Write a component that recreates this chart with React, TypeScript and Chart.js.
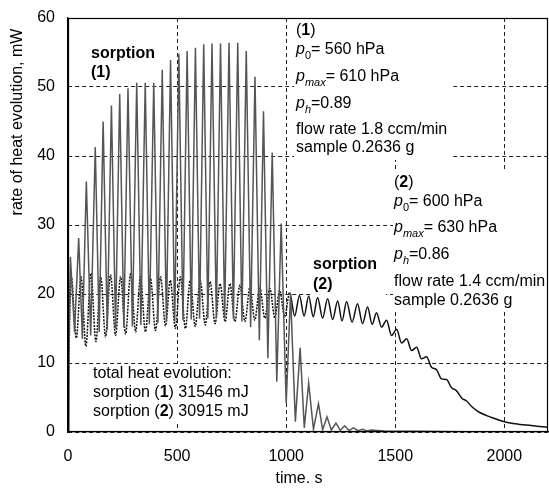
import React, { useEffect, useRef } from "react";
import { Chart, registerables } from "chart.js";
Chart.register(...registerables);

const xTicks = [0, 500, 1000, 1500, 2000];
const yTicks = [0, 10, 20, 30, 40, 50, 60];

// sorption (1): alternating troughs / peaks
const s1Time = [0, 4, 11, 30, 49, 66, 84, 104, 125, 143, 161, 180, 199, 218, 237, 256, 275, 295, 315, 334, 354, 373, 393, 412, 432, 451, 470, 489, 508, 527, 546, 565, 584, 603, 622, 641, 660, 680, 699, 718, 738, 758, 778, 797, 817, 837, 857, 877, 896, 916, 936, 957, 977, 1000, 1020, 1042, 1064, 1083, 1103, 1125, 1148, 1167, 1187, 1207, 1228, 1248, 1268, 1288, 1308, 1329, 1350, 1370, 1390, 1450, 1600, 1800, 2200];
const s1Value = [0, 13, 25.4, 14.5, 28.1, 13.5, 36.3, 14.0, 41.3, 14.5, 45.0, 14.8, 47.3, 15.0, 49.0, 15.2, 49.8, 15.3, 50.6, 15.5, 50.6, 15.6, 50.6, 15.8, 52.5, 16.0, 53.9, 16.0, 54.8, 16.2, 55.2, 16.3, 55.7, 16.4, 56.2, 16.5, 56.3, 16.5, 56.3, 16.5, 56.4, 16.4, 56.4, 16.0, 55.2, 15.2, 51.5, 13.3, 46.5, 10.7, 40.5, 7.3, 30.2, 4.2, 20.0, 1.5, 12.2, 0.6, 7.1, 0.4, 4.1, 0.3, 2.2, 0.3, 1.3, 0.25, 0.9, 0.2, 0.6, 0.2, 0.4, 0.15, 0.3, 0.15, 0.1, 0.05, 0.0];

// sorption (2)
const s2Time = [0, 5, 15, 38, 60, 82, 105, 128, 150, 172, 195, 218, 241, 264, 287, 310, 332, 355, 378, 401, 424, 447, 469, 492, 515, 538, 560, 583, 606, 629, 651, 674, 697, 720, 742, 765, 788, 811, 834, 856, 879, 902, 925, 948, 970, 993, 1016, 1039, 1061, 1082, 1103, 1124, 1144, 1167, 1190, 1213, 1236, 1256, 1277, 1302, 1327, 1350, 1373, 1394, 1414, 1437, 1460, 1483, 1506, 1529, 1552, 1575, 1598, 1620, 1643, 1666, 1690, 1712, 1735, 1758, 1780, 1805, 1827, 1850, 1883, 1942, 2000, 2050, 2100, 2150, 2200];
const s2Value = [0, 12, 22.5, 13.6, 22.5, 12.4, 23.0, 13.1, 22.5, 13.8, 22.8, 14.0, 22.5, 14.2, 23.0, 14.5, 22.5, 14.5, 22.3, 14.7, 22.5, 15.4, 22.0, 15.0, 22.5, 15.0, 22.0, 15.3, 22.0, 15.5, 21.8, 15.7, 21.5, 16.0, 21.5, 16.0, 21.3, 16.0, 21.0, 16.2, 21.0, 16.5, 20.8, 16.5, 20.5, 16.7, 20.2, 16.8, 19.8, 16.8, 19.7, 16.7, 19.5, 16.5, 19.3, 16.3, 19.0, 16.1, 18.9, 15.9, 18.6, 15.7, 18.1, 15.6, 17.3, 15.2, 16.2, 14.0, 14.9, 12.9, 13.5, 11.8, 12.3, 10.6, 10.9, 9.4, 9.0, 7.7, 7.6, 6.4, 6.0, 4.9, 4.5, 3.7, 2.9, 2.1, 1.5, 1.2, 1.0, 0.85, 0.7];

const FONT = '"Liberation Sans", Arial, Helvetica, sans-serif';
const FS = 16;

type Seg = { t: string; b?: boolean; i?: boolean; sub?: boolean };

function drawRich(ctx: CanvasRenderingContext2D, segs: Seg[], x: number, y: number) {
  let cx = x;
  for (const s of segs) {
    const fs = s.sub ? Math.round(FS * 0.7) : FS;
    ctx.font = `${s.i ? "italic " : ""}${s.b ? "bold " : ""}${fs}px ${FONT}`;
    const dy = s.sub ? FS * 0.35 : 0;
    ctx.fillText(s.t, cx, y + dy);
    cx += ctx.measureText(s.t).width;
  }
}

const annotPlugin = {
  id: "annot",
  beforeDatasetsDraw(chart: any) {
    const ctx: CanvasRenderingContext2D = chart.ctx;
    ctx.save();
    ctx.fillStyle = "#fff";
    ctx.fillRect(294, 19, 158, 141);
    ctx.fillRect(393, 171, 156, 140);
    ctx.fillRect(88, 364, 174, 57);
    ctx.fillRect(311, 255, 75, 40);
    ctx.restore();
  },
  afterDatasetsDraw(chart: any) {
    const ctx: CanvasRenderingContext2D = chart.ctx;
    const ca = chart.chartArea;
    ctx.save();
    ctx.strokeStyle = "#000";
    ctx.lineWidth = 1.2;
    ctx.strokeRect(ca.left + 0.5, ca.top + 0.5, ca.right - ca.left - 1, ca.bottom - ca.top - 1);

    ctx.fillStyle = "#000";
    ctx.textBaseline = "middle";
    ctx.textAlign = "left";

    // block (1)
    const L1 = 296;
    drawRich(ctx, [{ t: "(" }, { t: "1", b: true }, { t: ")" }], L1, 31);
    drawRich(ctx, [{ t: "p", i: true }, { t: "0", sub: true }, { t: "= 560 hPa" }], L1, 50);
    drawRich(ctx, [{ t: "p", i: true }, { t: "max", i: true, sub: true }, { t: "= 610 hPa" }], L1, 77);
    drawRich(ctx, [{ t: "p", i: true }, { t: "h", i: true, sub: true }, { t: "=0.89" }], L1, 104);
    drawRich(ctx, [{ t: "flow rate 1.8 ccm/min" }], L1, 130);
    drawRich(ctx, [{ t: "sample 0.2636 g" }], L1, 148);

    // block (2)
    const L2 = 394;
    drawRich(ctx, [{ t: "(" }, { t: "2", b: true }, { t: ")" }], L2, 183);
    drawRich(ctx, [{ t: "p", i: true }, { t: "0", sub: true }, { t: "= 600 hPa" }], L2, 202);
    drawRich(ctx, [{ t: "p", i: true }, { t: "max", i: true, sub: true }, { t: "= 630 hPa" }], L2, 228);
    drawRich(ctx, [{ t: "p", i: true }, { t: "h", i: true, sub: true }, { t: "=0.86" }], L2, 255);
    drawRich(ctx, [{ t: "flow rate 1.4 ccm/min" }], L2, 282);
    drawRich(ctx, [{ t: "sample 0.2636 g" }], L2, 301);

    // labels
    drawRich(ctx, [{ t: "sorption", b: true }], 91, 54);
    drawRich(ctx, [{ t: "(1)", b: true }], 91, 73);
    drawRich(ctx, [{ t: "sorption", b: true }], 313, 265);
    drawRich(ctx, [{ t: "(2)", b: true }], 313, 285);

    // totals
    drawRich(ctx, [{ t: "total heat evolution:" }], 93, 374);
    drawRich(ctx, [{ t: "sorption (" }, { t: "1", b: true }, { t: ") 31546 mJ" }], 93, 393);
    drawRich(ctx, [{ t: "sorption (" }, { t: "2", b: true }, { t: ") 30915 mJ" }], 93, 412);

    // axis titles
    ctx.font = `${FS}px ${FONT}`;
    ctx.textAlign = "center";
    ctx.fillText("time. s", 299, 479);
    ctx.save();
    ctx.translate(18, 122);
    ctx.rotate(-Math.PI / 2);
    ctx.fillText("rate of heat evolution, mW", 0, 0);
    ctx.restore();
    ctx.restore();
  },
};

export default function App() {
  const ref = useRef<HTMLCanvasElement>(null);
  useEffect(() => {
    document.body.style.margin = "0";
    const canvas = ref.current!;
    const gridCommon = { color: "#222", lineWidth: 1, drawTicks: false };
    const chart = new Chart(canvas, {
      type: "line",
      data: {
        datasets: [
          {
            label: "sorption (1)",
            data: s1Time.map((t, i) => ({ x: t, y: s1Value[i] })),
            borderColor: "#555",
            borderWidth: 1.5,
            pointRadius: 0,
            tension: 0,
          },
          {
            label: "sorption (2)",
            data: s2Time.map((t, i) => ({ x: t, y: s2Value[i] })),
            borderColor: "#111",
            borderWidth: 1.5,
            pointRadius: 0,
            cubicInterpolationMode: "monotone",
            segment: {
              borderDash: (c: any) => (c.p0.parsed.x < 1000 ? [2, 1.2] : undefined),
            },
          },
        ],
      },
      options: {
        responsive: false,
        animation: false,
        devicePixelRatio: 1,
        layout: { padding: { top: 18, right: 1, left: 0, bottom: 0 } },
        plugins: { legend: { display: false }, tooltip: { enabled: false } },
        scales: {
          x: {
            type: "linear",
            min: 0,
            max: 2200,
            afterBuildTicks: (s: any) => {
              s.ticks = xTicks.map((v) => ({ value: v }));
            },
            afterFit: (s: any) => {
              s.height = 56;
              s.paddingLeft = 0;
              s.paddingRight = 0;
            },
            grid: gridCommon,
            border: { display: true, color: "#000", width: 1.2, dash: [4, 3] },
            ticks: {
              padding: 15,
              color: "#000",
              maxRotation: 0,
              font: { family: FONT, size: FS },
              callback: (v: any) => String(v),
            },
          },
          y: {
            type: "linear",
            min: 0,
            max: 60,
            afterBuildTicks: (s: any) => {
              s.ticks = yTicks.map((v) => ({ value: v }));
            },
            afterFit: (s: any) => {
              s.width = 68;
              s.paddingTop = 0;
              s.paddingBottom = 0;
            },
            grid: gridCommon,
            border: { display: true, color: "#000", width: 1.2, dash: [4, 3] },
            ticks: {
              padding: 13,
              color: "#000",
              font: { family: FONT, size: FS },
              callback: (v: any) => String(v),
            },
          },
        },
      },
      plugins: [annotPlugin],
    });
    return () => chart.destroy();
  }, []);
  return <canvas ref={ref} width={549} height={488} style={{ display: "block" }} />;
}
